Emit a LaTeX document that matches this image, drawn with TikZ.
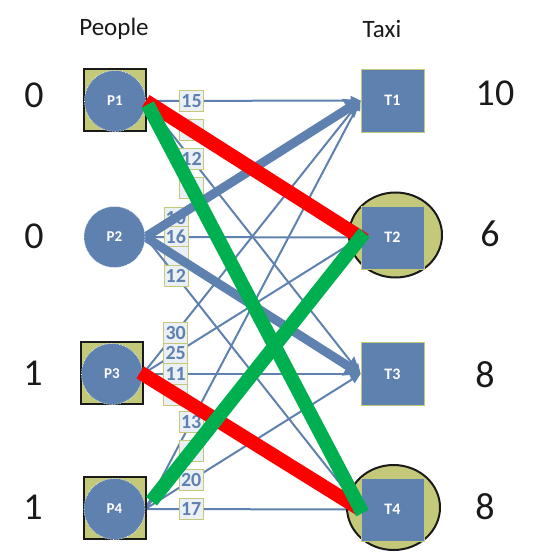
\documentclass[tikz,border=0pt]{standalone}
\usepackage{fontspec}
\setmainfont{Carlito}
\usetikzlibrary{shapes.geometric,arrows.meta}
\definecolor{nblue}{HTML}{5E81AF}
\definecolor{nolive}{HTML}{C4C97A}
\definecolor{lblbg}{HTML}{EAF0F6}
\definecolor{nred}{HTML}{FF0000}
\definecolor{ngreen}{HTML}{00B050}
\definecolor{ink}{HTML}{1A1A1A}
\pgfdeclarelayer{edges}
\pgfdeclarelayer{top}
\pgfsetlayers{edges,main,top}
\begin{document}
\begin{tikzpicture}[x=1pt,y=-1pt,
  psq/.style={rectangle,draw=ink,line width=2pt,fill=nolive,minimum size=62pt,inner sep=0pt},
  pc/.style={circle,fill=nblue,draw=white,densely dotted,line width=0.6pt,minimum size=61pt,inner sep=0pt,text=white,font=\fontsize{15}{15}\selectfont\bfseries},
  tsq/.style={rectangle,fill=nblue,draw=nolive,line width=0.8pt,minimum width=63pt,minimum height=63pt,inner sep=0pt,text=white,font=\fontsize{16}{16}\selectfont\bfseries},
  tbg/.style={ellipse,fill=nolive,draw=ink,line width=2pt,minimum width=93pt,minimum height=85pt,inner sep=0pt},
  link/.style={draw=nblue,line width=2pt,-{Triangle[length=10pt,width=9pt]}},
  heavy/.style={draw=nblue,line width=9pt,-{Triangle[length=15pt,width=22pt]}},
  pick/.style={line width=14pt},
  lbl/.style={rectangle,fill=lblbg,draw=nolive,line width=0.6pt,solid,text=nblue,font=\fontsize{20}{20}\selectfont\bfseries,inner sep=1pt,minimum width=24pt,minimum height=21pt},
  num/.style={font=\fontsize{38}{38}\selectfont,text=ink,inner sep=0pt},
  hdr/.style={font=\fontsize{25}{25}\selectfont,text=ink,inner sep=0pt}]
\useasboundingbox (0,0) rectangle (537,553);

% headers
\node[hdr] (hp) at (114,29) {People};
\node[hdr] (ht) at (382,29) {Taxi};

% left numbers
\node[num] (l1) at (34,95) {0};
\node[num] (l2) at (34,236) {0};
\node[num] (l3) at (33,373) {1};
\node[num] (l4) at (33,507) {1};
% right numbers
\node[num] (r1) at (495,93) {10};
\node[num] (r2) at (490,234) {6};
\node[num] (r3) at (485,375) {8};
\node[num] (r4) at (485,507) {8};

% people
\node[psq] (p1sq) at (115,100) {};
\node[pc] (p1) at (115,101) {P1};
\node[pc] (p2) at (114.5,237) {P2};
\node[psq] (p3sq) at (112,372.5) {};
\node[pc] (p3) at (112,374) {P3};
\node[psq] (p4sq) at (114.5,507.5) {};
\node[pc] (p4) at (114.5,509) {P4};

% taxis
\node[tsq] (t1) at (392.5,100.5) {T1};
\node[tbg] (t2bg) at (395.5,235) {};
\node[tsq] (t2) at (392.5,237.5) {T2};
\node[tsq] (t3) at (392.5,374) {T3};
\node[tbg] (t4bg) at (393.5,507.5) {};
\node[tsq] (t4) at (392.5,509.5) {T4};

\begin{pgfonlayer}{edges}
% P1
\draw[link] (p1.east) -- node[lbl,pos=.213] (w11) {15} (t1.west);
\draw[link] (p1.east) -- node[lbl,pos=.213] (w12) {} (t2.west);
\draw[link] (p1.east) -- node[lbl,pos=.213] (w13) {12} (t3.west);
\draw[link] (p1.east) -- node[lbl,pos=.213] (w14) {} (t4.west);
% P2
\draw[link] (p2.east) -- node[lbl,pos=.142] (w21) {10} (t1.west);
\draw[link] (p2.east) -- node[lbl,pos=.142] (w22) {16} (t2.west);
\draw[link] (p2.east) -- node[lbl,pos=.142] (w23) {} (t3.west);
\draw[link] (p2.east) -- node[lbl,pos=.142] (w24) {12} (t4.west);
% P3
\draw[link] (p3.east) -- node[lbl,pos=.151] (w31) {30} (t1.west);
\draw[link] (p3.east) -- node[lbl,pos=.151] (w32) {25} (t2.west);
\draw[link] (p3.east) -- node[lbl,pos=.151] (w33) {11} (t3.west);
\draw[link] (p3.east) -- node[lbl,pos=.151] (w34) {} (t4.west);
% P4
\draw[link] (p4.east) -- node[lbl,pos=.213] (w41) {13} (t1.west);
\draw[link] (p4.east) -- node[lbl,pos=.213] (w42) {} (t2.west);
\draw[link] (p4.east) -- node[lbl,pos=.213] (w43) {20} (t3.west);
\draw[link] (p4.east) -- node[lbl,pos=.213] (w44) {17} (t4.west);
% heavy blue
\draw[heavy] (p2.east) -- (t1.west);
\draw[heavy] (p2.east) -- (t3.west);
\end{pgfonlayer}

\begin{pgfonlayer}{top}
\draw[pick,draw=nred,shorten >=-5pt] (p1.east) -- (t2.west);
\draw[pick,draw=nred,shorten <=-3pt] (p3.east) -- (t4.west);
\draw[pick,draw=ngreen,shorten >=-4pt,shorten <=4pt] (p1.east) -- (t4.west);
\draw[pick,draw=ngreen,shorten <=10pt,shorten >=-6pt] (p4.east) -- (t2.west);
\end{pgfonlayer}
\end{tikzpicture}
\end{document}
